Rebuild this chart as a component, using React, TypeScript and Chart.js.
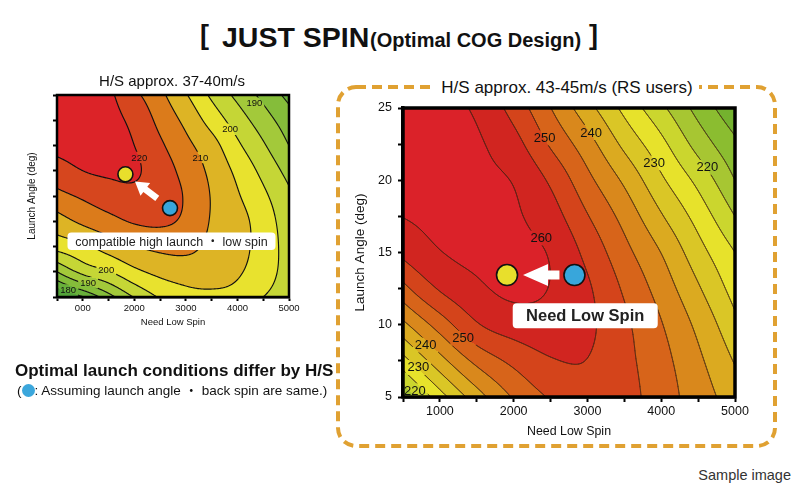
import React, { useEffect, useRef } from 'react';
import { Chart, registerables } from 'chart.js';

Chart.register(...registerables);

const FONT = "'Liberation Sans', Arial, Helvetica, 'Noto Sans CJK JP', sans-serif";
Chart.defaults.font.family = FONT;

// ---------- shared grid coordinates (Need Low Spin, Launch Angle) ----------
const spinGrid = [500, 1000, 1500, 2000, 2500, 3000, 3500, 4000, 4500, 5000];
const angleGrid = [5, 7.5, 10, 12.5, 15, 17.5, 20, 22.5, 25];

// ---------- left chart: H/S approx. 37-40 m/s (one row per launch angle) ----------
const leftRow05 = [174.0, 179.7, 188.0, 195.3, 200.5, 203.2, 203.6, 203.2, 200.0, 197.5];
const leftRow075 = [190.0, 196.4, 199.7, 203.8, 206.3, 207.3, 207.3, 205.6, 202.3, 197.8];
const leftRow10 = [201.8, 204.0, 207.2, 209.8, 211.2, 211.3, 208.8, 206.6, 203.0, 197.6];
const leftRow125 = [207.8, 211.0, 213.4, 215.5, 215.9, 214.0, 209.6, 206.8, 202.6, 197.0];
const leftRow15 = [213.5, 215.7, 217.6, 218.7, 217.8, 214.5, 209.7, 205.5, 201.0, 195.9];
const leftRow175 = [218.0, 220.0, 220.7, 220.6, 217.5, 213.3, 208.8, 203.8, 198.6, 193.3];
const leftRow20 = [221.2, 221.2, 221.0, 220.0, 215.8, 211.3, 206.9, 200.9, 195.6, 190.0];
const leftRow225 = [222.2, 221.6, 221.2, 218.8, 213.6, 208.7, 203.0, 197.5, 192.3, 187.2];
const leftRow25 = [222.5, 221.8, 220.8, 216.2, 211.2, 205.4, 199.1, 193.7, 188.6, 183.5];

const leftLevels = [180, 185, 190, 195, 200, 205, 210, 215, 220];
const leftColors = ['#53a43a', '#68b03a', '#85bd3a', '#a3c93a', '#c5d636', '#e8e22e', '#ddb425', '#db7b1b', '#d6461e', '#dc2328'];
const leftContourLabels = [
  [190, 4327, 24.18], [200, 3860, 21.6], [210, 3282, 18.8], [220, 2096, 18.8],
  [200, 1455, 7.67], [190, 1103, 6.42], [180, 717, 5.69],
];
const leftYellow = { x: 1827, y: 17.15 };
const leftBlue = { x: 2692, y: 13.8 };

// ---------- right chart: H/S approx. 43-45 m/s ----------
const rightRow05 = [215.5, 227.8, 237.7, 245.5, 250.5, 253.5, 251.8, 247.4, 242.5, 237.5];
const rightRow075 = [228.0, 238.1, 246.3, 251.2, 254.6, 254.9, 251.4, 246.7, 241.0, 234.6];
const rightRow10 = [238.7, 247.2, 254.5, 257.4, 258.0, 256.0, 251.0, 245.3, 238.8, 231.3];
const rightRow125 = [248.4, 255.5, 259.1, 261.0, 259.8, 255.7, 249.3, 242.9, 235.6, 228.0];
const rightRow15 = [256.2, 259.8, 261.0, 261.0, 259.6, 253.6, 246.6, 239.9, 232.0, 225.0];
const rightRow175 = [260.1, 261.0, 261.2, 260.6, 257.2, 250.3, 243.3, 235.5, 228.1, 220.0];
const rightRow20 = [261.6, 261.3, 260.8, 259.7, 254.2, 246.4, 239.1, 230.9, 223.6, 215.0];
const rightRow225 = [262.2, 261.6, 260.6, 256.8, 249.4, 242.1, 233.8, 226.4, 218.1, 211.0];
const rightRow25 = [262.5, 261.5, 259.2, 253.1, 245.1, 236.8, 228.7, 221.1, 213.3, 206.4];

const rightLevels = [210, 215, 220, 225, 230, 235, 240, 245, 250, 255, 260];
const rightColors = ['#74b22e', '#8bbd30', '#a7c632', '#cbd62e', '#e7e22b', '#dac626', '#dbaa20', '#d9881c', '#d7641a', '#d4441b', '#d12520', '#db2229'];
const rightContourLabels = [
  [250, 2419, 22.94], [240, 3050, 23.3], [230, 3905, 21.2], [220, 4626, 20.9], [260, 2374, 16.0],
  [250, 1315, 9.06], [240, 806, 8.6], [230, 707, 7.05], [220, 662, 5.43],
];
const rightYellow = { x: 1910, y: 13.44 };
const rightBlue = { x: 2824, y: 13.44 };

// ---------- ticks ----------
const xTickValues = [1000, 2000, 3000, 4000, 5000];
const leftXTickLabels = ['000', '2000', '3000', '4000', '5000'];
const rightXTickLabels = ['1000', '2000', '3000', '4000', '5000'];
const yTickValues = [5, 10, 15, 20, 25];
const leftYTickLabels = ['', '', '', '', ''];
const rightYTickLabels = ['5', '10', '15', '20', '25'];

// ---------- interpolation helpers ----------
function cr(p0: number, p1: number, p2: number, p3: number, t: number) {
  return 0.5 * (2 * p1 + (-p0 + p2) * t + (2 * p0 - 5 * p1 + 4 * p2 - p3) * t * t + (-p0 + 3 * p1 - 3 * p2 + p3) * t * t * t);
}
function gridAt(z: number[][], c: number, r: number): number {
  const nx = z[0].length, ny = z.length;
  const col = (rr: number, cc: number) => {
    if (cc < 0) return 3 * z[rr][0] - 3 * z[rr][1] + z[rr][2];
    if (cc > nx - 1) return 3 * z[rr][nx - 1] - 3 * z[rr][nx - 2] + z[rr][nx - 3];
    return z[rr][cc];
  };
  if (r < 0) return 3 * col(0, c) - 3 * col(1, c) + col(2, c);
  if (r > ny - 1) return 3 * col(ny - 1, c) - 3 * col(ny - 2, c) + col(ny - 3, c);
  return col(r, c);
}
function interp(z: number[][], xs: number[], ys: number[], x: number, y: number) {
  const u = (x - xs[0]) / (xs[1] - xs[0]);
  const v = (y - ys[0]) / (ys[1] - ys[0]);
  let i = Math.floor(u); if (i < 0) i = 0; if (i > xs.length - 2) i = xs.length - 2;
  let j = Math.floor(v); if (j < 0) j = 0; if (j > ys.length - 2) j = ys.length - 2;
  const t = u - i, s = v - j;
  const r: number[] = [];
  for (let k = -1; k <= 2; k++) {
    r.push(cr(gridAt(z, i - 1, j + k), gridAt(z, i, j + k), gridAt(z, i + 1, j + k), gridAt(z, i + 2, j + k), t));
  }
  return cr(r[0], r[1], r[2], r[3], s);
}
function hexToRgb(h: string) {
  const n = parseInt(h.slice(1), 16);
  return [(n >> 16) & 255, (n >> 8) & 255, n & 255];
}
function roundRectPath(ctx: CanvasRenderingContext2D, x: number, y: number, w: number, h: number, r: number) {
  ctx.beginPath();
  ctx.moveTo(x + r, y);
  ctx.lineTo(x + w - r, y);
  ctx.arcTo(x + w, y, x + w, y + r, r);
  ctx.lineTo(x + w, y + h - r);
  ctx.arcTo(x + w, y + h, x + w - r, y + h, r);
  ctx.lineTo(x + r, y + h);
  ctx.arcTo(x, y + h, x, y + h - r, r);
  ctx.lineTo(x, y + r);
  ctx.arcTo(x, y, x + r, y, r);
  ctx.closePath();
}

type Cfg = {
  key: string;
  z: number[][];
  levels: number[];
  colors: string[];
  lineColor: string;
  lineWidth: number;
  labels: number[][];
  labelSize: number;
  yellow: { x: number; y: number };
  blue: { x: number; y: number };
  pointRadius: number;
  arrow: { gapFrom: number; gapTo: number; head: number; headW: number; shaft: number };
  box: { x: number; y: number; w: number; h: number; text: string; size: number; weight: string };
  frameWidth: number;
  dashed: boolean;
  width: number; height: number; left: number; top: number;
  padTop: number; padRight: number; yAxisW: number; xAxisH: number;
  tickSize: number; tickLen: number; xTickPad: number; yTickPad: number;
  xTickLabels: string[]; yTickLabels: string[];
  xTitleSize: number; xTitlePad: number; yTitleSize: number; yTitlePad: number;
};

function contourPlugin(cfg: Cfg) {
  return {
    id: 'contour_' + cfg.key,
    beforeDraw(chart: any) {
      if (!cfg.dashed) return;
      const ctx = chart.ctx as CanvasRenderingContext2D;
      ctx.save();
      ctx.setLineDash([10, 6]);
      ctx.strokeStyle = '#e0a132';
      ctx.lineWidth = 4;
      roundRectPath(ctx, 8, 17, 437, 359, 18);
      ctx.stroke();
      ctx.restore();
    },
    beforeDatasetsDraw(chart: any) {
      const ctx = chart.ctx as CanvasRenderingContext2D;
      const a = chart.chartArea;
      const xs = chart.scales.x, ys = chart.scales.y;
      const L = Math.round(a.left), T = Math.round(a.top), R = Math.round(a.right), B = Math.round(a.bottom);
      const W = R - L, H = B - T;
      // filled bands
      const img = ctx.createImageData(W, H);
      const rgb = cfg.colors.map(hexToRgb);
      for (let py = 0; py < H; py++) {
        const yv = ys.getValueForPixel(T + py + 0.5);
        for (let px = 0; px < W; px++) {
          const xv = xs.getValueForPixel(L + px + 0.5);
          const v = interp(cfg.z, spinGrid, angleGrid, xv, yv);
          let k = 0;
          while (k < cfg.levels.length && v >= cfg.levels[k]) k++;
          const c = rgb[k];
          const o = (py * W + px) * 4;
          img.data[o] = c[0]; img.data[o + 1] = c[1]; img.data[o + 2] = c[2]; img.data[o + 3] = 255;
        }
      }
      const off = document.createElement('canvas');
      off.width = W; off.height = H;
      (off.getContext('2d') as CanvasRenderingContext2D).putImageData(img, 0, 0);
      ctx.drawImage(off, L, T);

      // field at pixel corners for contour lines
      const NW = W + 1;
      const F = new Float32Array((W + 1) * (H + 1));
      for (let py = 0; py <= H; py++) {
        const yv = ys.getValueForPixel(T + py);
        for (let px = 0; px <= W; px++) {
          F[py * NW + px] = interp(cfg.z, spinGrid, angleGrid, xs.getValueForPixel(L + px), yv);
        }
      }
      // label rectangles
      ctx.font = `${cfg.labelSize}px ${FONT}`;
      const rects = cfg.labels.map((lb) => {
        const cx = xs.getPixelForValue(lb[1]);
        const cy = ys.getPixelForValue(lb[2]);
        const w = ctx.measureText(String(lb[0])).width;
        return { cx, cy, x: cx - w / 2 - 2, y: cy - cfg.labelSize / 2 - 1, w: w + 4, h: cfg.labelSize + 2, t: String(lb[0]) };
      });
      ctx.save();
      ctx.beginPath();
      ctx.rect(L, T, W, H);
      rects.forEach((r) => ctx.rect(r.x, r.y, r.w, r.h));
      ctx.clip('evenodd');
      ctx.beginPath();
      const seg = (p: number[], q: number[]) => { ctx.moveTo(p[0], p[1]); ctx.lineTo(q[0], q[1]); };
      for (const lv of cfg.levels) {
        for (let j = 0; j < H; j++) {
          for (let i = 0; i < W; i++) {
            const va = F[j * NW + i], vb = F[j * NW + i + 1], vc = F[(j + 1) * NW + i + 1], vd = F[(j + 1) * NW + i];
            let idx = 0;
            if (va >= lv) idx |= 8; if (vb >= lv) idx |= 4; if (vc >= lv) idx |= 2; if (vd >= lv) idx |= 1;
            if (idx === 0 || idx === 15) continue;
            const x0 = L + i, y0 = T + j;
            const top = () => [x0 + (lv - va) / (vb - va), y0];
            const right = () => [x0 + 1, y0 + (lv - vb) / (vc - vb)];
            const bottom = () => [x0 + (lv - vd) / (vc - vd), y0 + 1];
            const left = () => [x0, y0 + (lv - va) / (vd - va)];
            switch (idx) {
              case 1: case 14: seg(left(), bottom()); break;
              case 2: case 13: seg(bottom(), right()); break;
              case 3: case 12: seg(left(), right()); break;
              case 4: case 11: seg(top(), right()); break;
              case 6: case 9: seg(top(), bottom()); break;
              case 7: case 8: seg(top(), left()); break;
              case 5: case 10: {
                const m = (va + vb + vc + vd) / 4;
                if ((m >= lv) === (idx === 5)) { seg(top(), left()); seg(bottom(), right()); }
                else { seg(top(), right()); seg(left(), bottom()); }
                break;
              }
            }
          }
        }
      }
      ctx.strokeStyle = cfg.lineColor;
      ctx.lineWidth = cfg.lineWidth;
      ctx.lineCap = 'round';
      ctx.stroke();
      ctx.restore();

      // contour labels
      ctx.save();
      ctx.fillStyle = '#111';
      ctx.font = `${cfg.labelSize}px ${FONT}`;
      ctx.textAlign = 'center';
      ctx.textBaseline = 'middle';
      rects.forEach((r) => ctx.fillText(r.t, r.cx, r.cy + 0.5));
      ctx.restore();

      // white annotation box
      const bx = xs.getPixelForValue(cfg.box.x), by = ys.getPixelForValue(cfg.box.y);
      ctx.save();
      ctx.fillStyle = '#ffffff';
      roundRectPath(ctx, bx - cfg.box.w / 2, by - cfg.box.h / 2, cfg.box.w, cfg.box.h, 4);
      ctx.fill();
      ctx.fillStyle = '#222';
      ctx.font = `${cfg.box.weight} ${cfg.box.size}px ${FONT}`;
      ctx.textAlign = 'center';
      ctx.textBaseline = 'middle';
      ctx.fillText(cfg.box.text, bx, by + 1);
      ctx.restore();

      // white arrow from blue to yellow
      const p0x = xs.getPixelForValue(cfg.blue.x), p0y = ys.getPixelForValue(cfg.blue.y);
      const p1x = xs.getPixelForValue(cfg.yellow.x), p1y = ys.getPixelForValue(cfg.yellow.y);
      const dl = Math.hypot(p1x - p0x, p1y - p0y);
      const ux = (p1x - p0x) / dl, uy = (p1y - p0y) / dl;
      const nx = -uy, ny = ux;
      const A = cfg.arrow;
      const tx = p0x + ux * A.gapFrom, ty = p0y + uy * A.gapFrom;
      const hx = p1x - ux * A.gapTo, hy = p1y - uy * A.gapTo;
      const bsx = hx - ux * A.head, bsy = hy - uy * A.head;
      ctx.save();
      ctx.fillStyle = '#ffffff';
      ctx.beginPath();
      ctx.moveTo(tx + nx * A.shaft / 2, ty + ny * A.shaft / 2);
      ctx.lineTo(bsx + nx * A.shaft / 2, bsy + ny * A.shaft / 2);
      ctx.lineTo(bsx + nx * A.headW / 2, bsy + ny * A.headW / 2);
      ctx.lineTo(hx, hy);
      ctx.lineTo(bsx - nx * A.headW / 2, bsy - ny * A.headW / 2);
      ctx.lineTo(bsx - nx * A.shaft / 2, bsy - ny * A.shaft / 2);
      ctx.lineTo(tx - nx * A.shaft / 2, ty - ny * A.shaft / 2);
      ctx.closePath();
      ctx.fill();
      ctx.restore();
    },
    afterDraw(chart: any) {
      const ctx = chart.ctx as CanvasRenderingContext2D;
      const a = chart.chartArea;
      ctx.save();
      ctx.strokeStyle = '#000';
      ctx.lineWidth = cfg.frameWidth;
      ctx.strokeRect(Math.round(a.left), Math.round(a.top), Math.round(a.right) - Math.round(a.left), Math.round(a.bottom) - Math.round(a.top));
      ctx.restore();
    },
  };
}

const leftCfg: Cfg = {
  key: 'left',
  z: [leftRow05, leftRow075, leftRow10, leftRow125, leftRow15, leftRow175, leftRow20, leftRow225, leftRow25],
  levels: leftLevels, colors: leftColors,
  lineColor: '#111', lineWidth: 1.15,
  labels: leftContourLabels, labelSize: 9.5,
  yellow: leftYellow, blue: leftBlue, pointRadius: 7.5,
  arrow: { gapFrom: 16, gapTo: 12, head: 13, headW: 16, shaft: 6.5 },
  box: { x: 2721, y: 10.51, w: 208, h: 17.5, text: 'compatible high launch ・ low spin', size: 12.5, weight: 'normal' },
  frameWidth: 2.5, dashed: false,
  width: 320, height: 285, left: 0, top: 60,
  padTop: 35, padRight: 31, yAxisW: 57, xAxisH: 48,
  tickSize: 9.5, tickLen: 4, xTickPad: 2, yTickPad: 3,
  xTickLabels: leftXTickLabels, yTickLabels: leftYTickLabels,
  xTitleSize: 9.5, xTitlePad: 17, yTitleSize: 10, yTitlePad: 26,
};

const rightCfg: Cfg = {
  key: 'right',
  z: [rightRow05, rightRow075, rightRow10, rightRow125, rightRow15, rightRow175, rightRow20, rightRow225, rightRow25],
  levels: rightLevels, colors: rightColors,
  lineColor: 'rgba(60,35,20,0.75)', lineWidth: 0.8,
  labels: rightContourLabels, labelSize: 13,
  yellow: rightYellow, blue: rightBlue, pointRadius: 10.5,
  arrow: { gapFrom: 15, gapTo: 16, head: 25, headW: 22, shaft: 9 },
  box: { x: 2970, y: 10.62, w: 145, h: 25, text: 'Need Low Spin', size: 16.5, weight: 'bold' },
  frameWidth: 3.5, dashed: true,
  width: 460, height: 390, left: 330, top: 70,
  padTop: 38, padRight: 55, yAxisW: 73, xAxisH: 63,
  tickSize: 12.5, tickLen: 5, xTickPad: 2.5, yTickPad: 6,
  xTickLabels: rightXTickLabels, yTickLabels: rightYTickLabels,
  xTitleSize: 12.4, xTitlePad: 20.6, yTitleSize: 13.5, yTitlePad: 22,
};

function ContourChart({ cfg }: { cfg: Cfg }) {
  const ref = useRef<HTMLCanvasElement>(null);
  useEffect(() => {
    const canvas = ref.current;
    if (!canvas) return;
    const chart = new Chart(canvas, {
      type: 'scatter',
      data: {
        datasets: [
          { data: [cfg.yellow], pointRadius: cfg.pointRadius, backgroundColor: '#e8df2c', borderColor: '#111', borderWidth: 1.6 },
          { data: [cfg.blue], pointRadius: cfg.pointRadius, backgroundColor: '#38a6db', borderColor: '#111', borderWidth: 1.6 },
        ],
      },
      options: {
        responsive: false,
        animation: false,
        devicePixelRatio: 1,
        events: [],
        layout: { padding: { left: 0, top: cfg.padTop, right: cfg.padRight, bottom: 0 } },
        plugins: { legend: { display: false }, tooltip: { enabled: false } },
        scales: {
          x: {
            type: 'linear', min: 500, max: 5000,
            afterFit: (s: any) => { s.height = cfg.xAxisH; },
            ticks: {
              stepSize: 500, autoSkip: false, maxRotation: 0, minRotation: 0, padding: cfg.xTickPad, color: '#111',
              font: { size: cfg.tickSize },
              callback: (v: any) => { const k = xTickValues.indexOf(Number(v)); return k >= 0 ? cfg.xTickLabels[k] : ''; },
            },
            grid: { display: true, drawOnChartArea: false, drawTicks: true, tickLength: cfg.tickLen, tickWidth: 2, tickColor: '#000' },
            border: { display: true, color: '#000', width: cfg.frameWidth },
            title: { display: true, text: 'Need Low Spin', color: '#111', font: { size: cfg.xTitleSize }, padding: { top: 0, bottom: cfg.xTitlePad } },
          },
          y: {
            type: 'linear', min: 5, max: 25,
            afterFit: (s: any) => { s.width = cfg.yAxisW; },
            ticks: {
              stepSize: 2.5, autoSkip: false, padding: cfg.yTickPad, color: '#111',
              font: { size: cfg.tickSize },
              callback: (v: any) => { const k = yTickValues.indexOf(Number(v)); return k >= 0 ? cfg.yTickLabels[k] : ''; },
            },
            grid: { display: true, drawOnChartArea: false, drawTicks: true, tickLength: cfg.tickLen, tickWidth: 2, tickColor: '#000' },
            border: { display: true, color: '#000', width: cfg.frameWidth },
            title: { display: true, text: 'Launch Angle (deg)', color: '#111', font: { size: cfg.yTitleSize }, padding: { top: cfg.yTitlePad, bottom: 0 } },
          },
        },
      } as any,
      plugins: [contourPlugin(cfg)],
    });
    return () => chart.destroy();
  }, [cfg]);
  return (
    <canvas
      ref={ref}
      width={cfg.width}
      height={cfg.height}
      style={{ position: 'absolute', left: cfg.left, top: cfg.top, width: cfg.width, height: cfg.height }}
    />
  );
}

export default function App() {
  const abs: React.CSSProperties = { position: 'absolute', whiteSpace: 'nowrap' };
  return (
    <div style={{ position: 'absolute', left: 0, top: 0, width: 800, height: 504, background: '#fff', overflow: 'hidden', fontFamily: FONT, color: '#111' }}>
      {/* main title */}
      <div style={{ ...abs, left: 200, top: 22, fontSize: 27, fontWeight: 700, lineHeight: '27px' }}>[</div>
      <div style={{ ...abs, left: 222, top: 22.5, fontSize: 28.5, fontWeight: 700, lineHeight: '28.5px' }}>JUST SPIN</div>
      <div style={{ ...abs, left: 370, top: 30, fontSize: 20, fontWeight: 700, lineHeight: '20px' }}>(Optimal COG Design)</div>
      <div style={{ ...abs, left: 589, top: 22, fontSize: 27, fontWeight: 700, lineHeight: '27px' }}>]</div>

      <ContourChart cfg={leftCfg} />
      <ContourChart cfg={rightCfg} />

      {/* chart titles */}
      <div style={{ ...abs, left: 22, width: 300, top: 73.3, textAlign: 'center', fontSize: 15, lineHeight: '15px' }}>H/S approx. 37-40m/s</div>
      <div style={{ ...abs, left: 417, width: 300, top: 78.6, textAlign: 'center', fontSize: 17, lineHeight: '17px' }}>
        <span style={{ background: '#fff', padding: '0 6px' }}>H/S approx. 43-45m/s (RS users)</span>
      </div>

      {/* notes */}
      <div style={{ ...abs, left: 15, top: 362.3, fontSize: 17, fontWeight: 700, lineHeight: '17px' }}>Optimal launch conditions differ by H/S</div>
      <div style={{ ...abs, left: 17, top: 383.6, fontSize: 13.5, lineHeight: '13.5px' }}>
        (<span style={{ display: 'inline-block', width: 13, height: 13, borderRadius: '50%', background: '#3ba7dc', verticalAlign: '-2px' }} />: Assuming launch angle ・ back spin are same.)
      </div>
      <div style={{ ...abs, left: 680, width: 111, top: 467.5, textAlign: 'right', fontSize: 14.5, lineHeight: '14.5px', color: '#333' }}>Sample image</div>
    </div>
  );
}
